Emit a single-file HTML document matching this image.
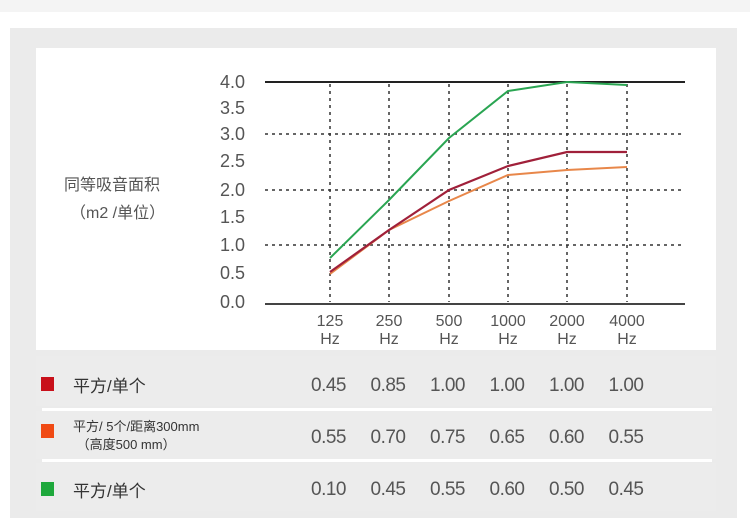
<!DOCTYPE html>
<html><head><meta charset="utf-8"><style>
body{margin:0;width:750px;height:526px;background:#fff;font-family:"Liberation Sans","Noto Sans CJK SC",sans-serif;position:relative;overflow:hidden}
.top{position:absolute;left:0;top:0;width:750px;height:12px;background:#f4f4f4}
.panel{position:absolute;left:10px;top:28px;width:727px;height:490px;background:#ebebeb}
.inner{position:absolute;left:36px;top:48px;width:680px;height:302px;background:#fff}
.row{position:absolute;left:36px;width:680px;background:#ececec}
.sep{position:absolute;left:42px;width:670px;height:3px;background:#fff}
.sw{position:absolute;left:41px;width:13px;height:14px}
.lab{position:absolute;color:#333;font-size:17px}
.vals{position:absolute;left:311px;font-size:19px;color:#555;letter-spacing:-0.5px;word-spacing:0}
.vals span{display:inline-block;width:59.5px}
</style></head><body>
<div class="top"></div>
<div class="panel"></div>
<div class="inner"></div>
<div class="row" style="top:356px;height:50px"></div>
<div class="row" style="top:411px;height:48px"></div>
<div class="row" style="top:463px;height:48px"></div>
<div class="sep" style="top:408px"></div>
<div class="sep" style="top:459px"></div>
<svg style="position:absolute;left:0;top:0" width="750" height="526">
<g stroke="#333" stroke-width="1.5" stroke-dasharray="3,4">
<line x1="265" y1="134" x2="685" y2="134"/><line x1="265" y1="190" x2="685" y2="190"/><line x1="265" y1="245" x2="685" y2="245"/>
<line x1="330" y1="84" x2="330" y2="302"/><line x1="389" y1="84" x2="389" y2="302"/><line x1="449" y1="84" x2="449" y2="302"/>
<line x1="508" y1="84" x2="508" y2="302"/><line x1="567" y1="84" x2="567" y2="302"/><line x1="627" y1="84" x2="627" y2="302"/>
</g>
<line x1="265" y1="82" x2="685" y2="82" stroke="#222" stroke-width="2"/>
<line x1="265" y1="304" x2="685" y2="304" stroke="#444" stroke-width="2"/>
<polyline fill="none" stroke="#e8874a" stroke-width="2" points="330,274 389,230 449,201 508,175 567,170 627,167"/>
<polyline fill="none" stroke="#a0203a" stroke-width="2.2" points="330,272 389,230 449,190 508,166 567,152 627,152"/>
<polyline fill="none" stroke="#2aa552" stroke-width="2" points="330,258 389,200 449,138 508,91 567,82 627,85"/>
<g font-size="18" fill="#555" text-anchor="end">
<text x="245" y="88">4.0</text><text x="245" y="114">3.5</text><text x="245" y="140">3.0</text><text x="245" y="167">2.5</text>
<text x="245" y="196">2.0</text><text x="245" y="223">1.5</text><text x="245" y="251">1.0</text><text x="245" y="279">0.5</text><text x="245" y="308">0.0</text>
</g>
<g font-size="16" fill="#555" text-anchor="middle">
<text x="330" y="326">125</text><text x="389" y="326">250</text><text x="449" y="326">500</text><text x="508" y="326">1000</text><text x="567" y="326">2000</text><text x="627" y="326">4000</text>
<text x="330" y="344">Hz</text><text x="389" y="344">Hz</text><text x="449" y="344">Hz</text><text x="508" y="344">Hz</text><text x="567" y="344">Hz</text><text x="627" y="344">Hz</text>
</g>
<g font-size="16" fill="#555">
<text x="64" y="190">同等吸音面积</text><text x="70" y="218">（m2 /单位）</text>
</g>
</svg>
<div class="sw" style="top:377px;background:#c8101a"></div>
<div class="sw" style="top:424px;background:#f04a14"></div>
<div class="sw" style="top:482px;background:#1ea83c"></div>
<div class="lab" style="left:73px;top:372px">平方/单个</div>
<div class="lab" style="left:73px;top:418px;font-size:13px;line-height:18px">平方/ 5个/距离300mm<br>&nbsp;（高度500 mm）</div>
<div class="lab" style="left:73px;top:477px">平方/单个</div>
<div class="vals" style="top:375px"><span>0.45</span><span>0.85</span><span>1.00</span><span>1.00</span><span>1.00</span><span>1.00</span></div>
<div class="vals" style="top:427px"><span>0.55</span><span>0.70</span><span>0.75</span><span>0.65</span><span>0.60</span><span>0.55</span></div>
<div class="vals" style="top:479px"><span>0.10</span><span>0.45</span><span>0.55</span><span>0.60</span><span>0.50</span><span>0.45</span></div>
</body></html>
